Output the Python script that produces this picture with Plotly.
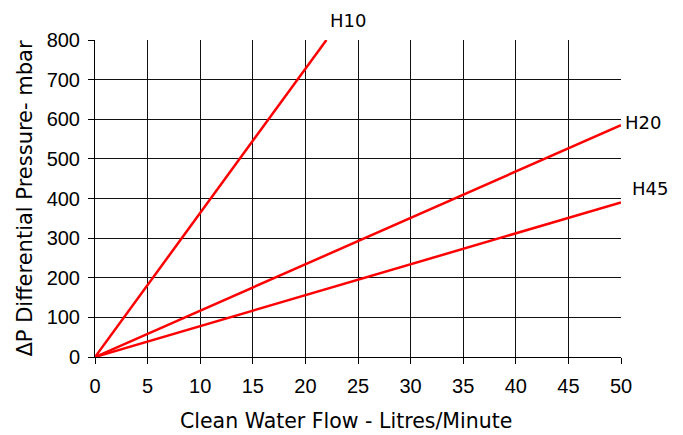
import plotly.graph_objects as go

flow = [0, 50]
series_names = ["H10", "H20", "H45"]
h10_x = [0, 22]
h10_y = [0, 800]
h20_y = [0, 585]
h45_y = [0, 390]
x_ticks = [0, 5, 10, 15, 20, 25, 30, 35, 40, 45, 50]
y_ticks = [0, 100, 200, 300, 400, 500, 600, 700, 800]
label_pos = {"H10": (24.05, 850), "H20": (52.1, 593), "H45": (52.8, 426)}
X_MAX, Y_MAX = 50, 800
x_title = "Clean Water Flow - Litres/Minute"
y_title = "ΔP Differential Pressure- mbar"

fig = go.Figure()
fig.add_trace(go.Scatter(x=h10_x, y=h10_y, mode="lines", name="H10",
                         line=dict(color="#ff0000", width=2.5)))
fig.add_trace(go.Scatter(x=flow, y=h20_y, mode="lines", name="H20",
                         line=dict(color="#ff0000", width=2.5)))
fig.add_trace(go.Scatter(x=flow, y=h45_y, mode="lines", name="H45",
                         line=dict(color="#ff0000", width=2.5)))

for name in series_names:
    lx, ly = label_pos[name]
    fig.add_annotation(x=lx / X_MAX, y=ly / Y_MAX, xref="paper", yref="paper",
                       text=name, showarrow=False,
                       font=dict(family="DejaVu Sans", size=18, color="#000"),
                       xanchor="center", yanchor="middle")

fig.add_annotation(x=0.477, y=-0.203, xref="paper", yref="paper",
                   text=x_title, showarrow=False, borderpad=0,
                   font=dict(family="DejaVu Sans", size=20.5, color="#000"),
                   xanchor="center", yanchor="middle")

fig.update_layout(
    width=683, height=435,
    margin=dict(l=87, r=70, t=32, b=86),
    paper_bgcolor="white", plot_bgcolor="white",
    showlegend=False,
    font=dict(family="Liberation Sans, Arial", size=20, color="#000"),
)
fig.update_xaxes(range=[0, X_MAX], tickvals=x_ticks, ticks="outside", ticklen=6,
                 tickcolor="#000", showline=True, linecolor="#000", linewidth=1,
                 showgrid=True, gridcolor="#111", gridwidth=1,
                 zeroline=False, ticklabelstandoff=5)
fig.update_yaxes(range=[0, Y_MAX], tickvals=y_ticks, ticks="outside", ticklen=6,
                 tickcolor="#000", showline=True, linecolor="#000", linewidth=1,
                 showgrid=True, gridcolor="#111", gridwidth=1,
                 zeroline=False, ticklabelstandoff=4,
                 title=dict(text=y_title,
                            font=dict(family="DejaVu Sans", size=21), standoff=8))

fig.write_html("out.html")
